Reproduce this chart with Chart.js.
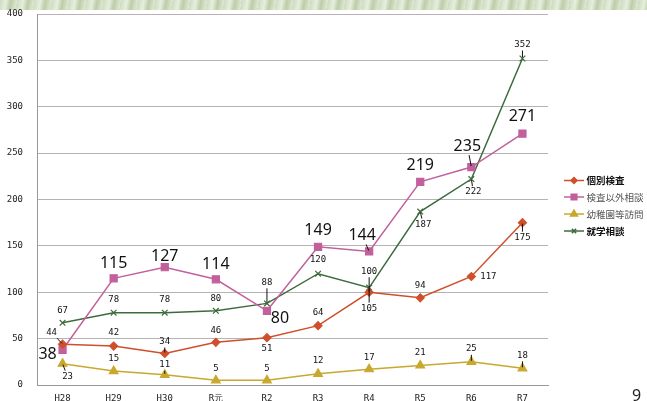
<!DOCTYPE html>
<html>
<head>
<meta charset="utf-8">
<script src="https://cdn.jsdelivr.net/npm/chart.js@4.4.1/dist/chart.umd.min.js"></script>
<style>
  html, body { margin: 0; padding: 0; background: #fff; }
  #wrap { position: relative; width: 647px; height: 401px; overflow: hidden; }
  #band {
    position: absolute; left: 0; top: 0; width: 647px; height: 10px;
    background: repeating-linear-gradient(100deg, #cfdcbf 0px, #e6eedd 6px, #bccda8 11px, #dfe8d3 17px);
  }
  #page { position: absolute; left: 632px; top: 384px; font: 16px "Noto Sans", sans-serif; color: #222; }
  canvas { position: absolute; left: 0; top: 0; }
</style>
</head>
<body>
<div id="wrap">
  <div id="band"></div>
  <canvas id="lineChart" width="647" height="401"></canvas>
  <div id="page">9</div>
</div>
<script>
// data
const years = ['H28', 'H29', 'H30', 'R元', 'R2', 'R3', 'R4', 'R5', 'R6', 'R7'];
const kobetsu = [44, 42, 34, 46, 51, 64, 100, 94, 117, 175];
const igaiSodan = [38, 115, 127, 114, 80, 149, 144, 219, 235, 271];
const houmon = [23, 15, 11, 5, 5, 12, 17, 21, 25, 18];
const shugaku = [67, 78, 78, 80, 88, 120, 105, 187, 222, 352];
const yTicks = [0, 50, 100, 150, 200, 250, 300, 350, 400];

// where each value label sits relative to its point: [dx, dy, leader line]
const posKobetsu = [[-11, -12, 1], [0, -13], [0, -12, 1], [0, -12], [0, 11], [0, -13], [0, -21, 1], [0, -12], [17, 0], [0, 15, 1]];
const posIgai = [[-15, 5], [0, -15], [0, -11], [0, -15], [13, 8], [0, -16], [-7, -16, 1], [0, -16], [-4, -21, 1], [0, -17]];
const posHoumon = [[5, 13, 1], [0, -12], [0, -10, 1], [0, -12], [0, -12], [0, -13], [0, -12], [0, -13], [0, -13, 1], [0, -13, 1]];
const posShugaku = [[0, -12], [0, -13], [0, -13], [0, -12], [0, -21, 1], [0, -14], [0, 21, 1], [3, 13, 1], [2, 13, 1], [0, -14, 1]];

const series = [
  { label: '個別検査', data: kobetsu, color: '#cf4f2b', style: 'rectRot', r: 4, bold: true, pos: posKobetsu, big: false },
  { label: '検査以外相談', data: igaiSodan, color: '#c2609c', style: 'rect', r: 5, bold: false, pos: posIgai, big: true },
  { label: '幼稚園等訪問', data: houmon, color: '#c9a82e', style: 'triangle', r: 5, bold: false, pos: posHoumon, big: false },
  { label: '就学相談', data: shugaku, color: '#3d6b3d', style: 'crossRot', r: 4, bold: true, pos: posShugaku, big: false }
];

const valueLabels = {
  id: 'valueLabels',
  afterDatasetsDraw(chart) {
    const ctx = chart.ctx;
    ctx.save();
    ctx.textAlign = 'center';
    ctx.textBaseline = 'middle';
    series.forEach((s, di) => {
      const meta = chart.getDatasetMeta(di);
      ctx.font = s.big ? '16px "Noto Sans", sans-serif' : '9px "DejaVu Sans Mono", monospace';
      const hh = s.big ? 8 : 5;
      meta.data.forEach((pt, i) => {
        const p = s.pos[i];
        const lx = pt.x + p[0], ly = pt.y + p[1];
        const txt = String(s.data[i]);
        ctx.fillStyle = '#111';
        ctx.fillText(txt, lx, ly);
        if (p[2]) {
          const hw = ctx.measureText(txt).width / 2 + 1;
          const dx = pt.x - lx, dy = pt.y - ly;
          const len = Math.hypot(dx, dy);
          const ux = dx / len, uy = dy / len;
          const sEdge = Math.min(ux ? hw / Math.abs(ux) : 1e9, uy ? (hh + 1) / Math.abs(uy) : 1e9);
          ctx.strokeStyle = '#111';
          ctx.lineWidth = 1;
          ctx.beginPath();
          ctx.moveTo(lx + ux * sEdge, ly + uy * sEdge);
          ctx.lineTo(pt.x - ux, pt.y - uy);
          ctx.stroke();
        }
      });
    });
    ctx.restore();
  }
};

const sideLegend = {
  id: 'sideLegend',
  afterDraw(chart) {
    const ctx = chart.ctx;
    const rows = [180.5, 197, 214, 231];
    ctx.save();
    series.forEach((s, i) => {
      const y = rows[i];
      ctx.strokeStyle = s.color;
      ctx.fillStyle = s.color;
      ctx.lineWidth = 1.5;
      ctx.beginPath();
      ctx.moveTo(564, y);
      ctx.lineTo(584, y);
      ctx.stroke();
      Chart.helpers.drawPoint(ctx, { pointStyle: s.style, radius: s.r - 1, rotation: 0, borderWidth: 1 }, 574, y);
      ctx.font = (s.bold ? 'bold ' : '') + '9.5px "Noto Sans CJK JP", sans-serif';
      ctx.fillStyle = s.bold ? '#111' : '#555';
      ctx.textAlign = 'left';
      ctx.textBaseline = 'middle';
      ctx.fillText(s.label, 586.5, y);
    });
    ctx.restore();
  }
};

new Chart(document.getElementById('lineChart'), {
  type: 'line',
  data: {
    labels: years,
    datasets: series.map(s => ({
      label: s.label,
      data: s.data,
      borderColor: s.color,
      backgroundColor: s.color,
      borderWidth: 1.5,
      pointStyle: s.style,
      pointRadius: s.r,
      pointBorderWidth: 1.2,
      pointBorderColor: s.color,
      pointBackgroundColor: s.color,
      tension: 0
    }))
  },
  options: {
    responsive: false,
    animation: false,
    layout: { autoPadding: false, padding: { top: 14, right: 99, left: 0, bottom: 0 } },
    plugins: { legend: { display: false }, tooltip: { enabled: false } },
    scales: {
      x: {
        offset: true,
        grid: { display: false, drawTicks: false },
        border: { color: '#999' },
        ticks: { padding: 8, color: '#222', font: { family: 'DejaVu Sans Mono', size: 9 } },
        afterFit(scale) { scale.height = 16; }
      },
      y: {
        min: 0,
        max: 400,
        afterBuildTicks(scale) { scale.ticks = yTicks.map(v => ({ value: v })); },
        grid: { color: '#b4b4b4', lineWidth: 1, drawTicks: true, tickLength: 14, tickColor: 'rgba(0,0,0,0)' },
        border: { color: '#999' },
        ticks: { padding: 0, color: '#222', font: { family: 'DejaVu Sans Mono', size: 9 } },
        afterFit(scale) { scale.width = 37; }
      }
    }
  },
  plugins: [valueLabels, sideLegend]
});
</script>
</body>
</html>
